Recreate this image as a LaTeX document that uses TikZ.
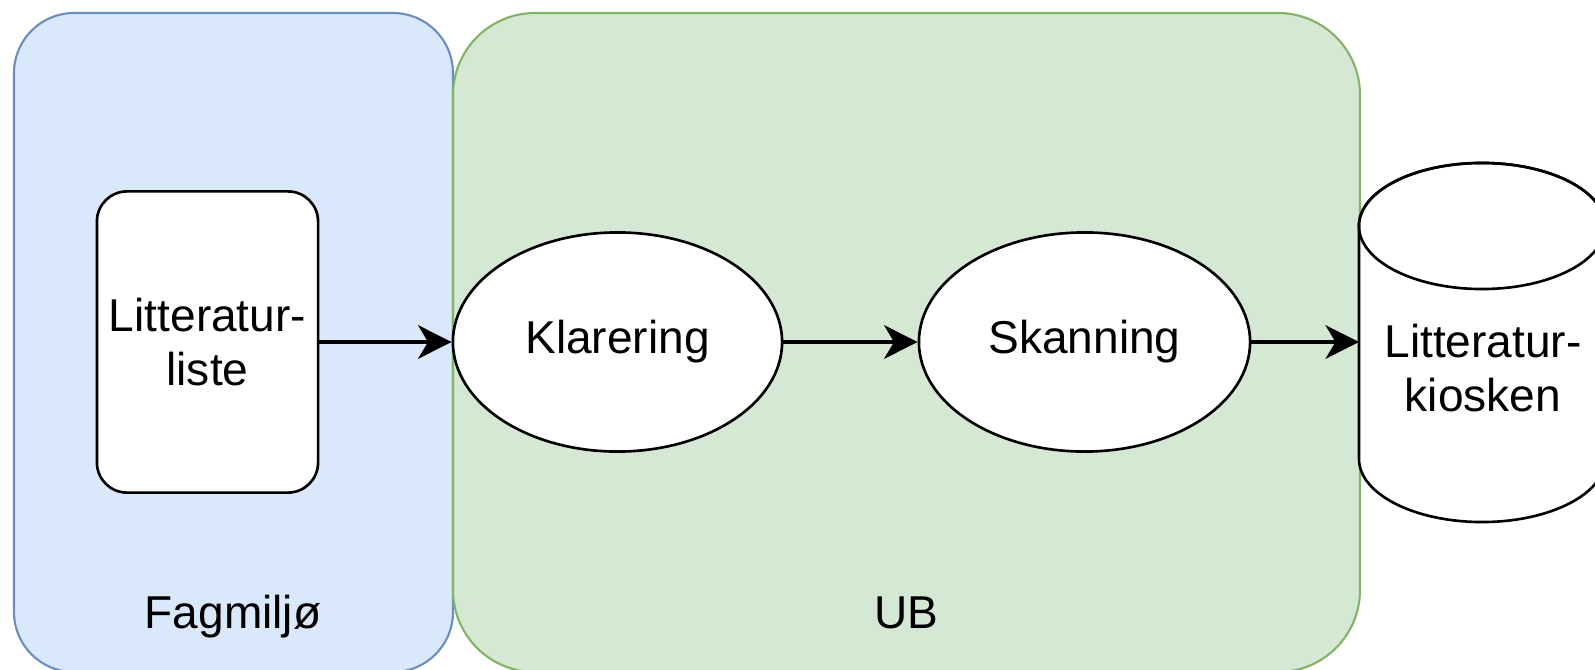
\documentclass[tikz,border=0pt]{standalone}
\usepackage{fontspec}
\setmainfont{Liberation Sans}
\usetikzlibrary{shapes.geometric,arrows.meta}
\definecolor{bluefill}{HTML}{DAE8FC}
\definecolor{bluedraw}{HTML}{6C8EBF}
\definecolor{greenfill}{HTML}{D5E8D4}
\definecolor{greendraw}{HTML}{82B366}
\tikzset{
  lbl/.style={font=\fontsize{13.1pt}{15.4pt}\selectfont, text=black, align=center},
  shapebox/.style={draw=black, line width=0.75pt, fill=white, inner sep=0pt},
  flow/.style={draw=black, line width=1.2pt, -{Stealth[length=9.5pt,width=9.5pt,inset=2.8pt]}},
}
\begin{document}
\begin{tikzpicture}[x=0.01cm,y=0.01cm]
\useasboundingbox (0,0) rectangle (1595,669);
\clip (0,0) rectangle (1595,669);
% containers
\draw[fill=bluefill, draw=bluedraw, line width=0.6pt, rounded corners=0.6cm] (14,656) rectangle (453,-3);
\draw[fill=greenfill, draw=greendraw, line width=0.6pt, rounded corners=0.82cm] (453,656) rectangle (1360,-3);
\node[lbl, anchor=base] (fag) at (233,41) {Fagmiljø};
\node[lbl, anchor=base] (ub) at (906,41) {UB};
% nodes
\node[shapebox, rounded corners=0.3cm, minimum width=2.21cm, minimum height=3.01cm, lbl] (lit) at (207.5,327) {Litteratur-\\liste};
\node[shapebox, ellipse, minimum width=3.29cm, minimum height=2.19cm, lbl] (klar) at (617.5,327) {Klarering};
\node[shapebox, ellipse, minimum width=3.31cm, minimum height=2.19cm, lbl] (skan) at (1084.5,327) {Skanning};
% cylinder
\draw[fill=white, draw=black, line width=0.75pt] (1359,443) -- (1359,210)
  arc[start angle=180, end angle=360, x radius=1.23cm, y radius=0.63cm]
  -- (1605,443)
  arc[start angle=0, end angle=180, x radius=1.23cm, y radius=0.63cm] -- cycle;
\draw[draw=black, line width=0.75pt] (1482,443) ellipse [x radius=1.23cm, y radius=0.63cm];
\node[lbl] (kiosk) at (1483,301) {Litteratur-\\kiosken};
\coordinate (kioskW) at (1359,327);
% connectors
\draw[flow] (lit.east) -- (klar.west);
\draw[flow] (klar.east) -- (skan.west);
\draw[flow] (skan.east) -- (kioskW);
\end{tikzpicture}
\end{document}
